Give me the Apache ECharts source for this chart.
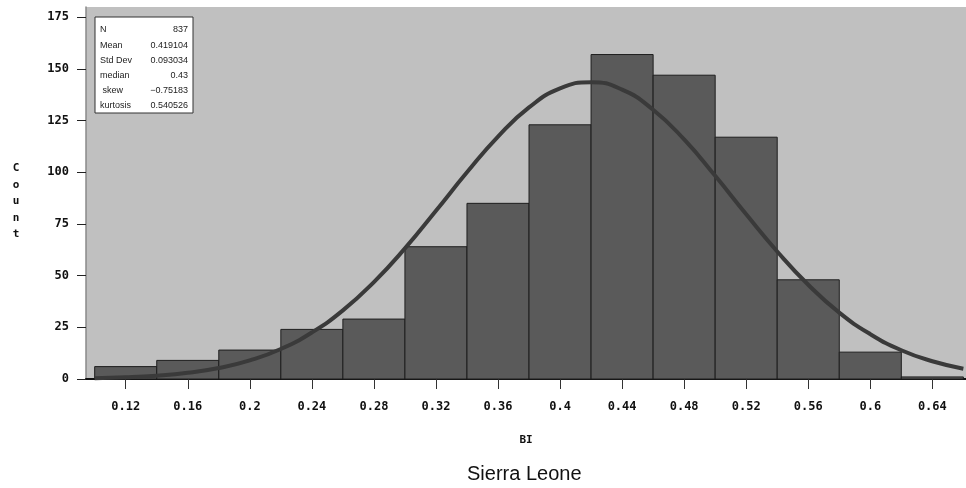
<!DOCTYPE html>
<html>
<head>
<meta charset="utf-8">
<script src="https://cdn.jsdelivr.net/npm/echarts@6.0.0/dist/echarts.min.js"></script>
<style>
html,body{margin:0;padding:0;background:#fff;}
#chart{width:966px;height:488px;}
</style>
</head>
<body>
<div id="chart"></div>
<script>
// Histogram bins (lower edges) and counts
const binLow = [0.10, 0.14, 0.18, 0.22, 0.26, 0.30, 0.34, 0.38, 0.42, 0.46, 0.50, 0.54, 0.58, 0.62];
const binWidth = 0.04;
const counts = [6, 9, 14, 24, 29, 64, 85, 123, 157, 147, 117, 48, 13, 1];
// Fitted normal curve
const curveX = [0.10, 0.12, 0.14, 0.16, 0.18, 0.20, 0.22, 0.24, 0.26, 0.28, 0.30, 0.32, 0.34, 0.36, 0.38,
                0.40, 0.42, 0.44, 0.46, 0.48, 0.50, 0.52, 0.54, 0.56, 0.58, 0.60, 0.62, 0.64, 0.66];
const curveY = [0.4, 0.8, 1.6, 3.0, 5.3, 9.0, 14.5, 22.5, 33.2, 46.9, 63.2, 81.4, 100.0, 117.3, 131.4,
                140.6, 143.6, 140.0, 130.3, 115.9, 98.3, 79.7, 61.7, 45.6, 32.1, 21.7, 13.9, 8.6, 5.0];
// Tick values
const xTicks = [0.12, 0.16, 0.2, 0.24, 0.28, 0.32, 0.36, 0.4, 0.44, 0.48, 0.52, 0.56, 0.6, 0.64];
const yTicks = [0, 25, 50, 75, 100, 125, 150, 175];
// Statistics box
const statLabels = ['N', 'Mean', 'Std Dev', 'median', ' skew', 'kurtosis'];
const statValues = ['837', '0.419104', '0.093034', '0.43', '\u22120.75183', '0.540526'];
const titleText = 'Sierra Leone';
const xName = 'BI';
const yName = 'Count';

const chart = echarts.init(document.getElementById('chart'), null, {renderer: 'canvas'});
const tickFont = {fontFamily: 'DejaVu Sans Mono', fontWeight: 'bold', fontSize: 12, color: '#111'};

const barData = binLow.map((lo, i) => [lo, +(lo + binWidth).toFixed(2), counts[i]]);
const lineData = curveX.map((x, i) => [x, curveY[i]]);

const statGraphics = [];
const boxX = 95, boxY = 17, rowH = 15.2, firstRow = 30;
statGraphics.push({type: 'rect', shape: {x: boxX, y: boxY, width: 98, height: 96},
  style: {fill: '#fff', stroke: '#333', lineWidth: 1}, z: 100});
statLabels.forEach((s, i) => {
  statGraphics.push({type: 'text', x: 100, y: firstRow + i * rowH, z: 101,
    style: {text: s, fontFamily: 'Liberation Sans', fontSize: 9, fill: '#222', verticalAlign: 'middle', align: 'left'}});
  statGraphics.push({type: 'text', x: 188, y: firstRow + i * rowH, z: 101,
    style: {text: statValues[i], fontFamily: 'Liberation Sans', fontSize: 9, fill: '#222', verticalAlign: 'middle', align: 'right'}});
});
statGraphics.push({type: 'text', x: 16, y: 160, z: 101,
  style: {text: yName.split('').join('\n'), fontFamily: 'DejaVu Sans Mono', fontWeight: 'bold', fontSize: 11,
    lineHeight: 16.5, fill: '#111', align: 'center', verticalAlign: 'top'}});

const option = {
  backgroundColor: '#fff',
  animation: false,
  title: {
    text: titleText, left: 462, top: 459,
    textStyle: {fontFamily: 'Liberation Sans', fontWeight: 'normal', fontSize: 20, color: '#111'}
  },
  grid: {left: 86, right: 0, top: 7, bottom: 109, show: true, backgroundColor: '#c0c0c0', borderWidth: 0},
  xAxis: [{
    type: 'value', min: 0.0944, max: 0.6617, position: 'bottom',
    name: xName, nameLocation: 'middle', nameGap: 56,
    nameTextStyle: {fontFamily: 'DejaVu Sans Mono', fontWeight: 'bold', fontSize: 11, color: '#111'},
    axisLine: {show: true, onZero: false, lineStyle: {color: '#111', width: 1}},
    axisTick: {show: true, length: 10, lineStyle: {color: '#333'}, customValues: xTicks},
    axisLabel: Object.assign({margin: 22, customValues: xTicks, formatter: v => String(+v.toFixed(2))}, tickFont),
    splitLine: {show: false}
  }, {
    type: 'value', min: 0.0944, max: 0.6617, position: 'top',
    axisLine: {show: true, lineStyle: {color: '#111', width: 2}},
    axisTick: {show: false}, axisLabel: {show: false}, splitLine: {show: false}
  }],
  yAxis: {
    type: 'value', min: 0, max: 180,
    axisLine: {show: true, lineStyle: {color: '#8a8a8a', width: 1.5}},
    axisTick: {show: true, length: 9, lineStyle: {color: '#222'}, customValues: yTicks},
    axisLabel: Object.assign({margin: 17, customValues: yTicks}, tickFont),
    splitLine: {show: false}
  },
  graphic: statGraphics,
  series: [{
    type: 'custom',
    xAxisIndex: 0,
    data: barData,
    encode: {x: [0, 1], y: 2},
    renderItem: function (params, api) {
      const p0 = api.coord([api.value(0), api.value(2)]);
      const p1 = api.coord([api.value(1), 0]);
      return {type: 'rect', shape: {x: p0[0], y: p0[1], width: p1[0] - p0[0], height: p1[1] - p0[1]},
        style: {fill: '#5a5a5a', stroke: '#1e1e1e', lineWidth: 1}};
    },
    z: 2
  }, {
    type: 'line',
    xAxisIndex: 0,
    data: lineData,
    smooth: true,
    symbol: 'none',
    lineStyle: {color: '#3a3a3a', width: 4},
    z: 3
  }]
};
chart.setOption(option);
</script>
</body>
</html>
